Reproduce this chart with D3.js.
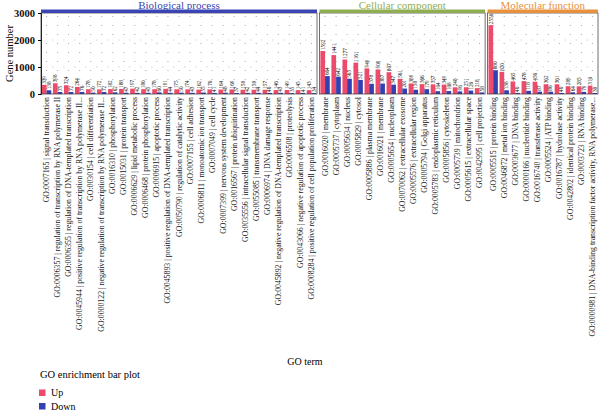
<!DOCTYPE html>
<html><head><meta charset="utf-8">
<script src="https://cdn.jsdelivr.net/npm/d3@7/dist/d3.min.js"></script>
<style>body{margin:0;background:#fff}svg{display:block}text{font-family:"Liberation Serif","DejaVu Serif",serif}</style>
</head><body><svg id="c" width="600" height="412"></svg>
<script>
const bpTerms=["GO:0007165 | signal transduction","GO:0006357 | regulation of transcription by RNA polymerase II","GO:0006355 | regulation of DNA-templated transcription","GO:0045944 | positive regulation of transcription by RNA polymerase II...","GO:0030154 | cell differentiation","GO:0000122 | negative regulation of transcription by RNA polymerase II...","GO:0016310 | phosphorylation","GO:0015031 | protein transport","GO:0006629 | lipid metabolic process","GO:0006468 | protein phosphorylation","GO:0006915 | apoptotic process","GO:0045893 | positive regulation of DNA-templated transcription","GO:0050790 | regulation of catalytic activity","GO:0007155 | cell adhesion","GO:0006811 | monoatomic ion transport","GO:0007049 | cell cycle","GO:0007399 | nervous system development","GO:0016567 | protein ubiquitination","GO:0035556 | intracellular signal transduction","GO:0055085 | transmembrane transport","GO:0006974 | DNA damage response","GO:0045892 | negative regulation of DNA-templated transcription","GO:0006508 | proteolysis","GO:0043066 | negative regulation of apoptotic process","GO:0008284 | positive regulation of cell population proliferation"];
const bpUp=[339,398,324,264,178,172,182,188,197,180,178,191,175,174,162,170,164,169,158,158,157,146,149,145,143];
const bpDown=[138,75,72,76,50,72,62,47,42,45,60,44,50,43,55,41,48,37,42,44,40,43,35,41,34];
const ccTerms=["GO:0016020 | membrane","GO:0005737 | cytoplasm","GO:0005634 | nucleus","GO:0005829 | cytosol","GO:0005886 | plasma membrane","GO:0016021 | membrane","GO:0005654 | nucleoplasm","GO:0070062 | extracellular exosome","GO:0005576 | extracellular region","GO:0005794 | Golgi apparatus","GO:0005783 | endoplasmic reticulum","GO:0005856 | cytoskeleton","GO:0005739 | mitochondrion","GO:0005615 | extracellular space","GO:0042995 | cell projection"];
const ccUp=[1592,1441,1277,1161,949,909,807,561,389,366,357,349,248,251,218];
const ccDown=[664,642,565,521,378,387,347,201,158,179,104,108,96,126,58];
const mfTerms=["GO:0005515 | protein binding","GO:0046872 | metal ion binding","GO:0003677 | DNA binding","GO:0000166 | nucleotide binding","GO:0016740 | transferase activity","GO:0005524 | ATP binding","GO:0016787 | hydrolase activity","GO:0042802 | identical protein binding","GO:0003723 | RNA binding","GO:0000981 | DNA-binding transcription factor activity, RNA polymerase..."];
const mfUp=[2550,820,465,478,456,362,361,289,285,310];
const mfDown=[880,138,40,118,87,86,40,64,79,38];
const yTicks=[0,1000,2000,3000];
const seriesNames=["Up","Down"];
const colors={Up:"#ec4b6b",Down:"#3340b0"};
const panels=[
 {name:"Biological process",terms:bpTerms,up:bpUp,down:bpDown,color:"#3a44b5"},
 {name:"Cellular component",terms:ccTerms,up:ccUp,down:ccDown,color:"#8fae52"},
 {name:"Molecular function",terms:mfTerms,up:mfUp,down:mfDown,color:"#e8903c"}];

const svg=d3.select("#c");
const L=41,R=598,T=13,B=94,gap=2.5;
const n=d3.sum(panels,p=>p.terms.length);
const bw=(R-L-gap*(panels.length-1))/n;
const y=d3.scaleLinear().domain([0,3000]).range([B,T]);
const labelFont=7.3;

// measure a reference label to set the horizontal stretch of the axis labels
const probe=svg.append("text").attr("font-size",labelFont).text(mfTerms[mfTerms.length-1]);
const probeLen=probe.node().getComputedTextLength();
probe.remove();
const stretch=240/probeLen;

let x0=L;
panels.forEach(p=>{
  const w=bw*p.terms.length;
  const x=d3.scaleBand().domain(p.terms).range([x0,x0+w]).paddingInner(0.15).paddingOuter(0.08);
  const xs=d3.scaleBand().domain(seriesNames).range([0,x.bandwidth()]);
  const g=svg.append("g");
  g.selectAll("line.v").data(p.terms).join("line")
   .attr("x1",d=>x(d)+x.bandwidth()/2).attr("x2",d=>x(d)+x.bandwidth()/2)
   .attr("y1",T+3).attr("y2",B).attr("stroke","#777").attr("stroke-width",0.8).attr("stroke-dasharray","0.8,8.2");
  g.selectAll("line.h").data([1000,2000]).join("line")
   .attr("x1",x0).attr("x2",x0+w).attr("y1",d=>y(d)).attr("y2",d=>y(d))
   .attr("stroke","#aaa").attr("stroke-width",0.5).attr("stroke-dasharray","1.5,9.5");
  const data=[];
  p.terms.forEach((t,i)=>{data.push({t,s:"Up",v:p.up[i]});data.push({t,s:"Down",v:p.down[i]});});
  g.selectAll("rect.bar").data(data).join("rect")
   .attr("x",d=>x(d.t)+xs(d.s)).attr("width",xs.bandwidth())
   .attr("y",d=>y(d.v)).attr("height",d=>B-y(d.v)).attr("fill",d=>colors[d.s]);
  g.selectAll("text.val").data(data).join("text")
   .attr("transform",d=>`translate(${x(d.t)+xs(d.s)+xs.bandwidth()/2+1.8},${y(d.v)-1}) rotate(-90)`)
   .attr("font-size",5.2).attr("fill","#111").text(d=>d.v);
  g.append("rect").attr("x",x0).attr("y",T).attr("width",w).attr("height",B-T)
   .attr("fill","none").attr("stroke","#333").attr("stroke-width",0.7);
  g.append("rect").attr("x",x0).attr("y",T-3.5).attr("width",w).attr("height",3.5).attr("fill",p.color);
  g.append("text").attr("x",x0+w/2).attr("y",8.8).attr("text-anchor","middle")
   .attr("font-size",11).attr("fill",p.color).text(p.name);
  g.selectAll("text.xl").data(p.terms).join("text")
   .attr("transform",d=>`translate(${x(d)+x.bandwidth()/2+2.5},${B+3}) rotate(-90) scale(${stretch},1)`)
   .attr("text-anchor","end").attr("font-size",labelFont).attr("fill","#111").text(d=>d);
  x0+=w+gap;
});

const ya=svg.append("g").attr("transform",`translate(${L},0)`)
 .call(d3.axisLeft(y).tickValues(yTicks).tickSize(3).tickFormat(d3.format("d")));
ya.select(".domain").attr("stroke","#222");
ya.selectAll("text").attr("font-size",10.5).attr("font-weight","bold").attr("fill","#111")
 .attr("font-family","Liberation Serif, serif");
svg.append("text").attr("transform",`translate(13,${(T+B)/2}) rotate(-90)`).attr("text-anchor","middle")
 .attr("font-size",10.5).text("Gene number");
svg.append("text").attr("x",305).attr("y",365).attr("text-anchor","middle").attr("font-size",10).text("GO term");

svg.append("text").attr("x",40).attr("y",378).attr("font-size",10.5).text("GO enrichment bar plot");
const lg=svg.selectAll("g.lg").data(seriesNames).join("g").attr("transform",(d,i)=>`translate(39,${389.5+i*13.5})`);
lg.append("rect").attr("width",6.5).attr("height",6.5).attr("fill",d=>colors[d]);
lg.append("text").attr("x",12).attr("y",6.5).attr("font-size",10).text(d=>d);
</script></body></html>
